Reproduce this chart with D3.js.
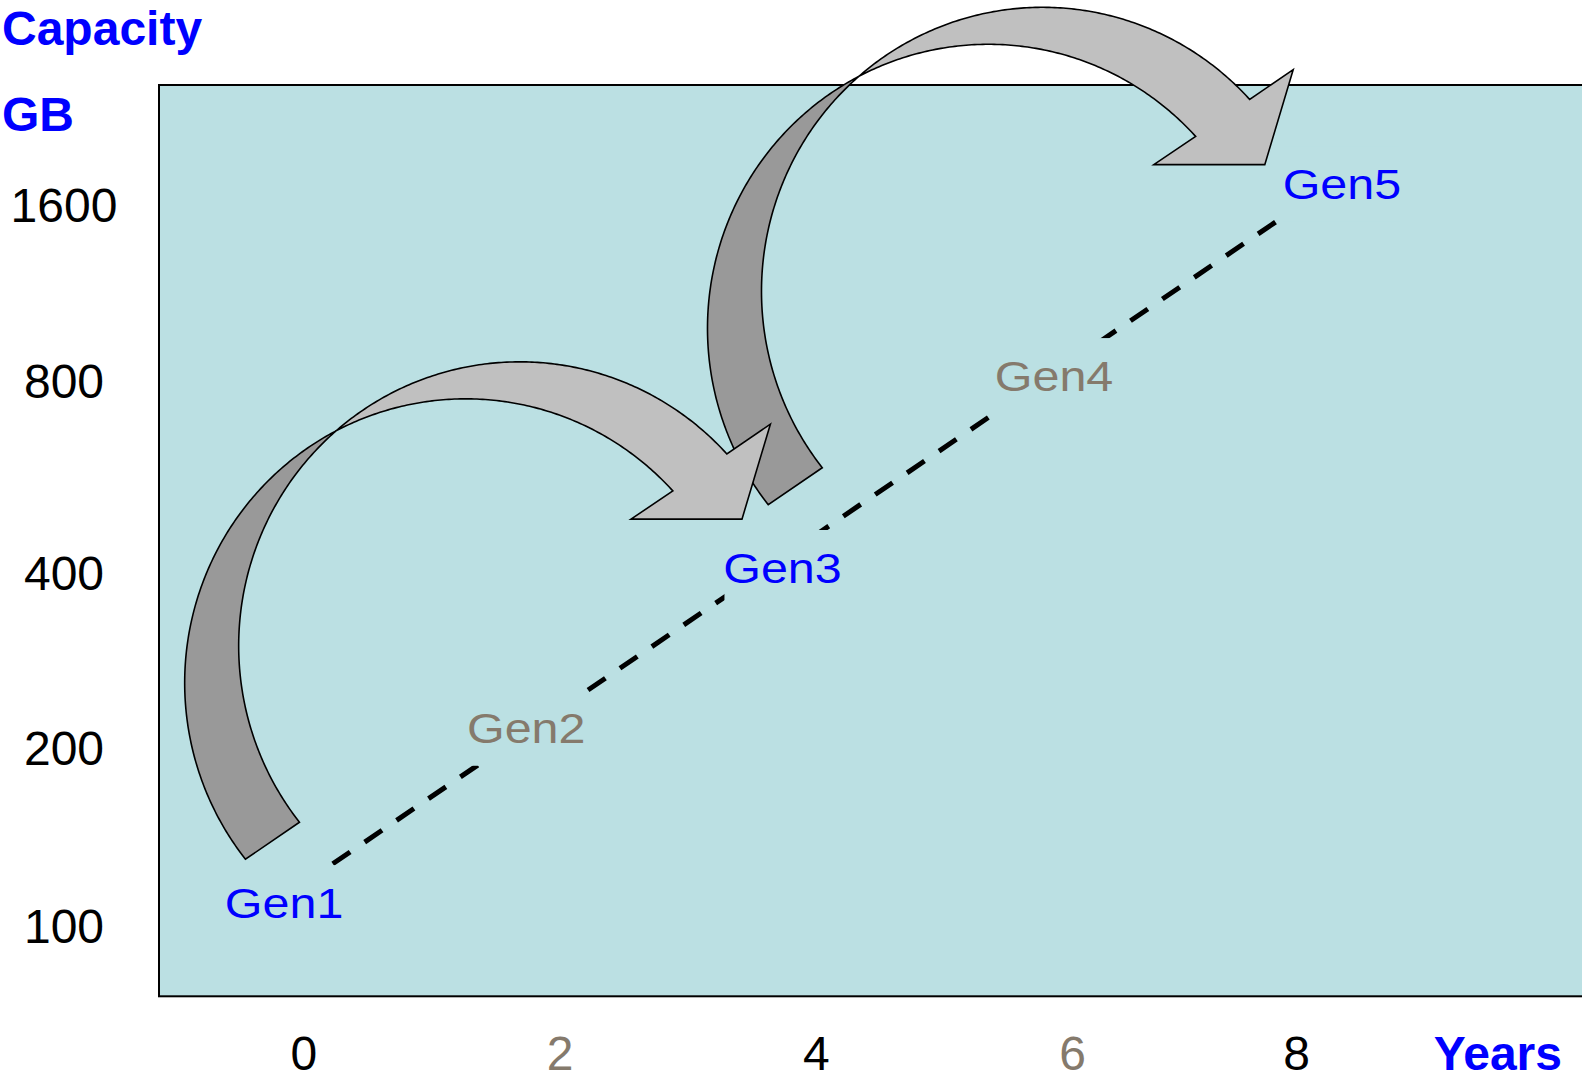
<!DOCTYPE html>
<html>
<head>
<meta charset="utf-8">
<script src="https://cdn.jsdelivr.net/npm/d3@7"></script>
<style>
  body { margin: 0; background: #fff; }
  text { font-family: "Liberation Sans", Arial, sans-serif; }
</style>
</head>
<body>
<div id="chart-area"></div>
<script>
// generations on the roadmap, and where each label sits (years, GB)
const gens = ["Gen1", "Gen2", "Gen3", "Gen4", "Gen5"]
const genYear = [-0.15, 1.74, 3.74, 5.86, 8.41]
const genCapacity = [109, 216, 407, 815, 1733]

// dashed trend line, start and end
const trendYear = [0.23, 7.83]
const trendCapacity = [127, 1499]

// axis ticks
const yearTicks = [0, 2, 4, 6, 8]
const capacityTicks = [100, 200, 400, 800, 1600]

// two-generation jumps drawn as curved arrows
const jumps = [[0, 2], [2, 4]]

const WIDTH = 1582
const HEIGHT = 1074
const PLOT = { LEFT: 159, TOP: 85, BOTTOM: 996.3 }
const BLUE = "#0000ff"
const GRAY = "#857a6c"
const TEAL = "#bbe0e3"

const svg = d3.select("#chart-area").append("svg")
  .attr("width", WIDTH)
  .attr("height", HEIGHT)

const x = d3.scaleLinear()
  .domain([yearTicks[0], yearTicks[3], yearTicks[4]])
  .range([303.3, 1072, 1296])

const y = d3.scaleLog()
  .domain(capacityTicks)
  .range([925, 747.5, 572.5, 380.5, 204.5])

// plot background
svg.append("rect")
  .attr("x", PLOT.LEFT)
  .attr("y", PLOT.TOP)
  .attr("width", WIDTH + 20 - PLOT.LEFT)
  .attr("height", PLOT.BOTTOM - PLOT.TOP)
  .attr("fill", TEAL)
  .attr("stroke", "#000")
  .attr("stroke-width", 2)

// axes
const yAxisCall = d3.axisLeft(y)
  .tickValues(capacityTicks)
  .tickSize(0)
  .tickPadding(0)
  .tickFormat(d3.format("d"))

svg.append("g")
  .attr("class", "y axis")
  .attr("transform", "translate(64, 0)")
  .call(yAxisCall)
  .call(g => g.select(".domain").remove())
  .selectAll("text")
    .attr("x", 0)
    .attr("dy", "0.36em")
    .attr("text-anchor", "middle")
    .attr("font-size", 48)
    .attr("fill", "#000")

const xAxisCall = d3.axisBottom(x)
  .tickValues(yearTicks)
  .tickSize(0)
  .tickPadding(0)

svg.append("g")
  .attr("class", "x axis")
  .attr("transform", "translate(0, 1070)")
  .call(xAxisCall)
  .call(g => g.select(".domain").remove())
  .selectAll("text")
    .attr("y", 0)
    .attr("dy", 0)
    .attr("font-size", 48)
    .attr("fill", (d, i) => i % 2 ? GRAY : "#000")

// axis titles
svg.append("text").attr("x", 2).attr("y", 45)
  .attr("font-size", 48).attr("font-weight", "bold").attr("fill", BLUE)
  .text("Capacity")
svg.append("text").attr("x", 2).attr("y", 131)
  .attr("font-size", 48).attr("font-weight", "bold").attr("fill", BLUE)
  .text("GB")
svg.append("text").attr("x", 1562).attr("y", 1070)
  .attr("text-anchor", "end")
  .attr("font-size", 48).attr("font-weight", "bold").attr("fill", BLUE)
  .text("Years")

// dashed trend line
const trend = trendYear.map((d, i) => [x(d), y(trendCapacity[i])])
svg.append("path")
  .attr("d", d3.line()(trend))
  .attr("fill", "none")
  .attr("stroke", "#000")
  .attr("stroke-width", 5)
  .attr("stroke-dasharray", "21,17.6")

// label boxes hide the line behind the text
const pts = gens.map((g, i) => ({ name: g, i: i, cx: x(genYear[i]), cy: y(genCapacity[i]) }))

svg.selectAll("rect.lblbox")
  .data(pts)
  .enter().append("rect")
  .attr("class", "lblbox")
  .attr("x", d => d.cx - 58)
  .attr("y", d => d.cy - 37.7)
  .attr("width", 116)
  .attr("height", 75.4)
  .attr("fill", TEAL)

// curved arrows: a twisted ribbon made of two offset ellipses
const RX = 281, RY = 284
const T0 = 141.6 * Math.PI / 180
const T1 = 317.5 * Math.PI / 180
const backC = [-17.75, -86]
const frontC = [36.25, -123]
const headPts = [[286.95, -344.7], [258.55, -249.7], [147.55, -249.7]]

function ell(c, t) {
  return [c[0] + RX * Math.cos(t), c[1] + RY * Math.sin(t)]
}

function arc(c, a, b) {
  const n = Math.max(2, Math.ceil(Math.abs(b - a) / 0.01))
  return d3.range(n + 1).map(k => ell(c, a + (b - a) * k / n))
}

// where the back edge crosses the front ellipse (the twist)
function inFront(p) {
  return ((p[0] - frontC[0]) / RX) ** 2 + ((p[1] - frontC[1]) / RY) ** 2 - 1
}
let lo = T0, hi = 1.5 * Math.PI
for (let k = 0; k < 60; k++) {
  const mid = (lo + hi) / 2
  if (inFront(ell(backC, mid)) > 0) lo = mid
  else hi = mid
}
const tc = (lo + hi) / 2
const pc = ell(backC, tc)
let sc = Math.atan2((pc[1] - frontC[1]) / RY, (pc[0] - frontC[0]) / RX)
if (sc < 0) sc += 2 * Math.PI

const backBand = arc(backC, T0, tc).concat(arc(frontC, sc, T0))
const frontBand = arc(frontC, sc, T1).concat(headPts, arc(backC, T1, tc))

// anchor each arrow between its two labels, nearer the start
const arrows = jumps.map(j => ({
  ax: 0.6 * pts[j[0]].cx + 0.4 * pts[j[1]].cx,
  ay: 0.6 * pts[j[0]].cy + 0.4 * pts[j[1]].cy
}))

const line = d3.line()

svg.selectAll("path.back")
  .data(arrows)
  .enter().append("path")
  .attr("class", "back")
  .attr("transform", d => `translate(${d.ax}, ${d.ay})`)
  .attr("d", line(backBand) + "Z")
  .attr("fill", "#999999")
  .attr("stroke", "#000")
  .attr("stroke-width", 1.6)
  .attr("stroke-linejoin", "miter")

svg.selectAll("path.front")
  .data(arrows)
  .enter().append("path")
  .attr("class", "front")
  .attr("transform", d => `translate(${d.ax}, ${d.ay})`)
  .attr("d", line(frontBand) + "Z")
  .attr("fill", "#c0c0c0")
  .attr("stroke", "#000")
  .attr("stroke-width", 1.6)
  .attr("stroke-linejoin", "miter")

// generation labels
svg.selectAll("text.gen")
  .data(pts)
  .enter().append("text")
  .attr("class", "gen")
  .attr("transform", d => `translate(${d.cx}, ${d.cy}) scale(1.14, 1)`)
  .attr("dy", "0.358em")
  .attr("text-anchor", "middle")
  .attr("font-size", 42.5)
  .attr("fill", d => d.i % 2 ? GRAY : BLUE)
  .text(d => d.name)
</script>
</body>
</html>
